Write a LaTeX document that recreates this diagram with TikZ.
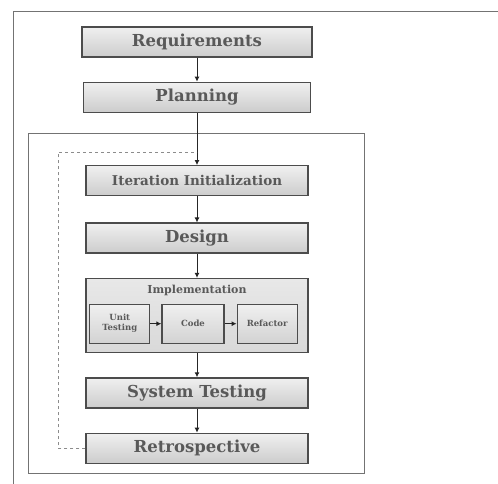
\documentclass[tikz,border=0pt]{standalone}
\usepackage{fontspec}
\setmainfont{DejaVu Serif}
\usepackage{tikz}
\usetikzlibrary{positioning}
\usetikzlibrary{arrows.meta}

\begin{document}
\begin{tikzpicture}[x=1pt, y=1pt,
    stage/.style={draw=black!70, line width=1.4pt, top color=gray!12, bottom color=gray!40,
        text=black!65, font=\bfseries\fontsize{16.5}{16.5}\selectfont,
        minimum width=222pt, minimum height=30pt, inner sep=0pt},
    part/.style={draw=black!70, line width=1.2pt, top color=gray!12, bottom color=gray!35,
        text=black!65, font=\bfseries\fontsize{8.5}{10}\selectfont, align=center,
        minimum width=60pt, minimum height=39pt, inner sep=0pt},
    flow/.style={draw=black!85, line width=1pt, -{Latex[length=5pt, width=5pt]}},
    backline/.style={draw=black!45, line width=1pt, dashed}]
    \useasboundingbox (0,0) rectangle (498,484);
    % frames
    \draw[black!55, line width=1pt] (13,0) -- (13,472) -- (498,472);
    \draw[black!55, line width=1pt] (28,10) rectangle (364,350);

    \node[stage, minimum width=230pt] (req) at (197,442) {Requirements};
     \node[stage, minimum width=227pt] (plan) [below = 24pt of req] {Planning};
    \node[stage, font=\bfseries\fontsize{13.5}{13.5}\selectfont] (iter) [below = 52pt of plan] {Iteration Initialization};
      \node[stage] (design) [below = 26pt of iter] {Design};
      \node[stage, minimum height=74pt, top color=gray!18, bottom color=gray!30] (impl) [below = 24pt of design] {};
      \node[stage] (systest) [below = 24pt of impl] {System Testing};
      \node[stage] (retro) [below = 24pt of systest] {Retrospective};

    % inside implementation
    \node[text=black!65, font=\bfseries\fontsize{11}{11}\selectfont] (impllabel) [below = 4pt of impl.north] {Implementation};
    \node[part, minimum width=62pt] (code) [below = 4pt of impllabel, xshift=-4pt] {Code};
      \node[part] (unit) [left = 11pt of code] {Unit\\Testing};
      \node[part] (refactor) [right = 12pt of code] {Refactor};

    \coordinate[above = 13pt of iter] (join);
    \coordinate[left = 27pt of retro] (back);

      \path[flow]
      (req) edge (plan)
      (plan) edge (iter)
      (iter) edge (design)
      (design) edge (impl)
      (impl) edge (systest)
      (systest) edge (retro)
      (unit) edge (code)
      (code) edge (refactor);
    \draw[backline] (retro) -- (back) |- (join);
\end{tikzpicture}
\end{document}
